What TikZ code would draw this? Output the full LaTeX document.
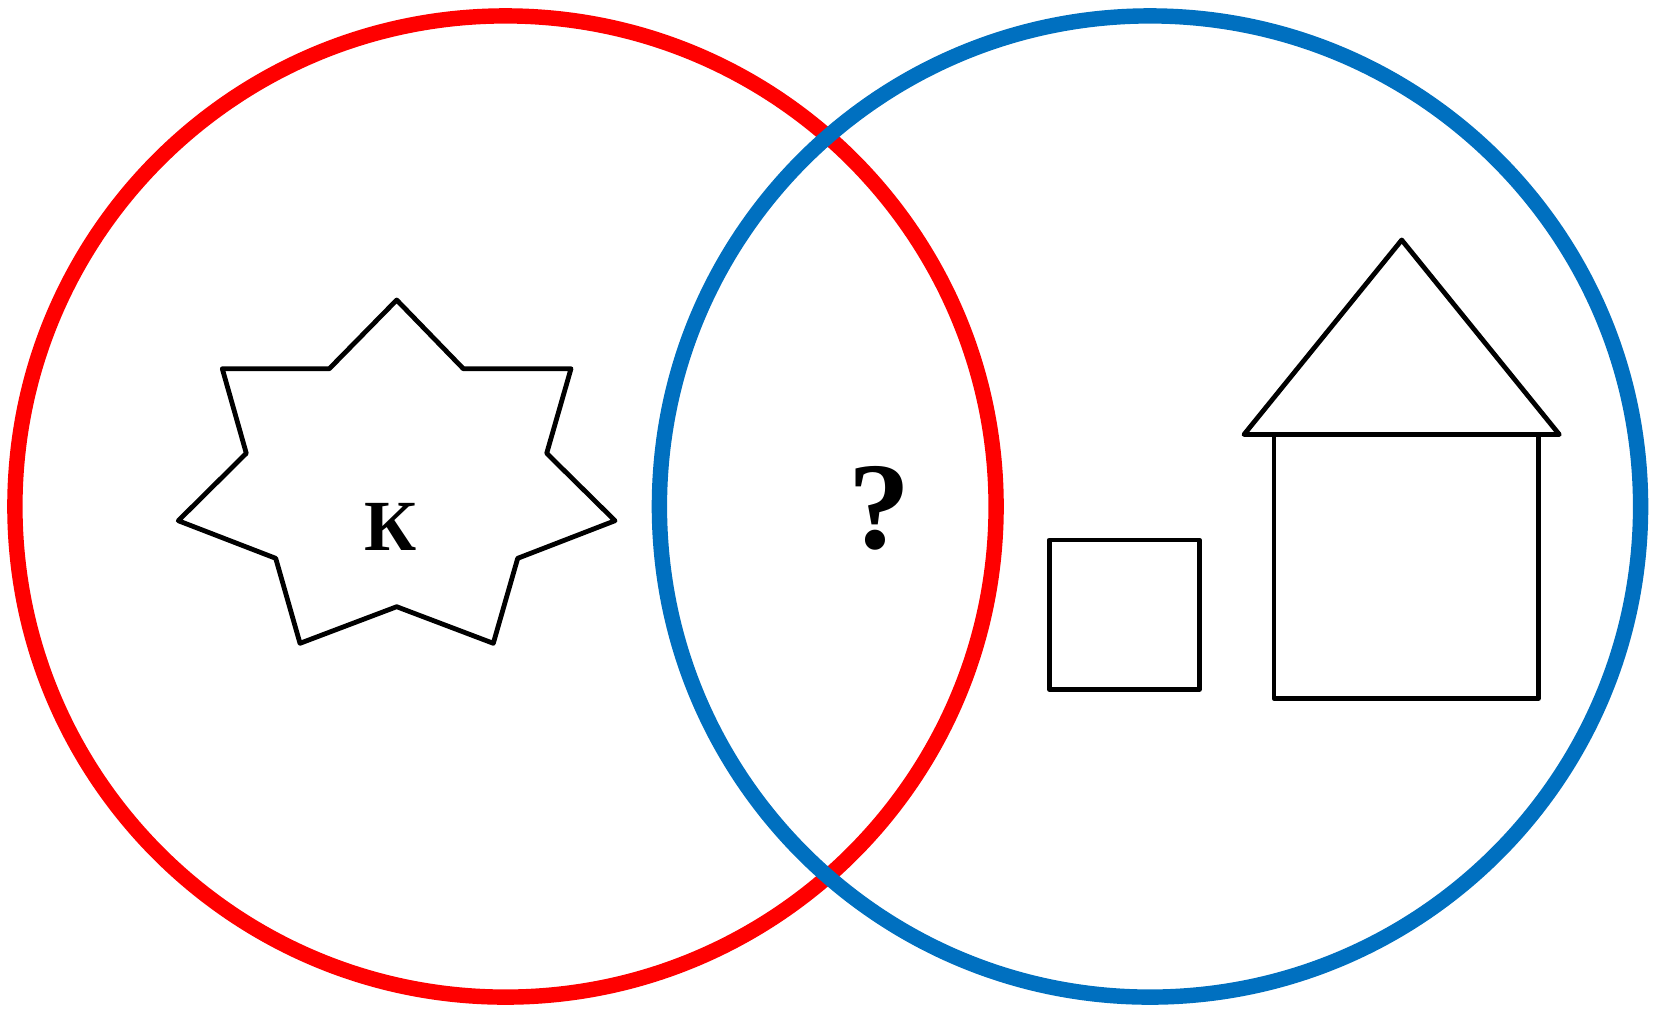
\documentclass[tikz,border=0pt]{standalone}
\usepackage{fontspec}
\setmainfont{Liberation Serif}
\definecolor{ringred}{RGB}{255,0,0}
\definecolor{ringblue}{RGB}{0,112,192}
\begin{document}
\begin{tikzpicture}[x=0.5pt,y=-0.5pt,
  ring/.style={line width=7.7pt},
  shapeline/.style={draw=black,line width=2.4pt,line join=round,line cap=round},
  glyph/.style={inner sep=0pt,anchor=base,font=\bfseries}]
\useasboundingbox (0,0) rectangle (1665,1009);
\draw[ring,ringred] (505.5,506.5) circle[radius=490.6];
\draw[ring,ringblue] (1150,506.5) circle[radius=490.6];
% star
\draw[shapeline] (396.7,300) -- (463.3,368.7) -- (571,368.7) -- (546.7,453.3) -- (615,520.7) -- (517.7,558.3) -- (493.3,643.3) -- (396.7,606.7) -- (300,643.3) -- (275.7,558.3) -- (178.3,520.7) -- (246.3,453.3) -- (222.3,368.7) -- (329.3,368.7) -- cycle;
\node[glyph,font=\bfseries\fontsize{36}{40}\selectfont] (kletter) at (391,550) {К};
\node[glyph,font=\bfseries\fontsize{62}{68}\selectfont] (qmark) at (879,548) {?};
% square
\draw[shapeline] (1049.3,540) rectangle (1199.3,689.3);
% house
\draw[shapeline] (1274,435) rectangle (1538.3,698.3);
\draw[shapeline] (1244,434.5) -- (1401.7,240) -- (1559.3,434.5) -- cycle;
\end{tikzpicture}
\end{document}
